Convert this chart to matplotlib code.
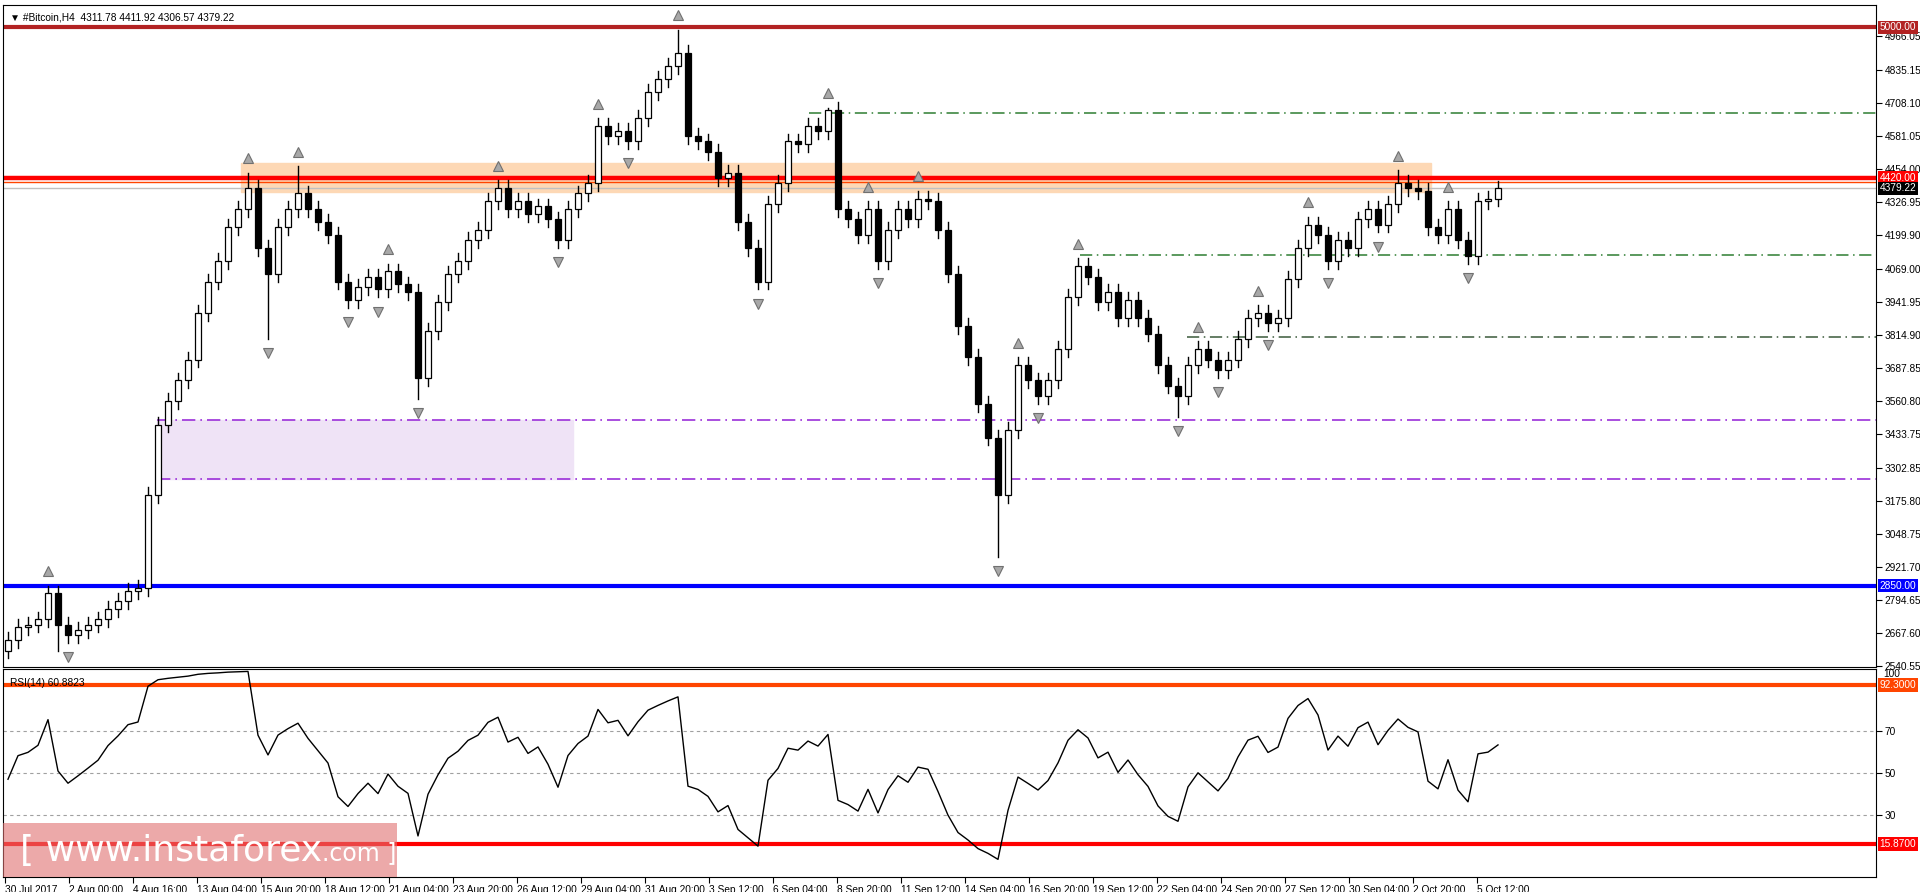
import matplotlib
matplotlib.use("Agg")
import matplotlib.pyplot as plt
import numpy as np
from matplotlib.transforms import blended_transform_factory as btf

closes = [2640, 2690, 2700, 2720, 2820, 2700, 2660, 2680, 2700, 2720, 2760, 2790, 2830,
          2840, 3200, 3470, 3560, 3640, 3720, 3900, 4020, 4100, 4230, 4300, 4380, 4150,
          4050, 4230, 4300, 4360, 4300, 4250, 4200, 4020, 3950, 4000, 4040, 3990, 4060,
          4010, 3980, 3650, 3830, 3940, 4050, 4100, 4180, 4220, 4330, 4380, 4300, 4330,
          4280, 4310, 4260, 4180, 4300, 4360, 4400, 4620, 4580, 4600, 4560, 4650, 4750,
          4800, 4850, 4900, 4580, 4560, 4520, 4420, 4440, 4250, 4150, 4020, 4320, 4400,
          4560, 4550, 4620, 4600, 4680, 4300, 4260, 4200, 4300, 4100, 4220, 4300, 4260,
          4340, 4330, 4220, 4050, 3850, 3730, 3550, 3420, 3200, 3450, 3700, 3640, 3580,
          3640, 3760, 3960, 4080, 4040, 3940, 3980, 3880, 3950, 3880, 3820, 3700, 3620,
          3580, 3700, 3760, 3720, 3680, 3720, 3800, 3880, 3900, 3860, 3880, 4030, 4150,
          4240, 4200, 4100, 4180, 4150, 4260, 4300, 4240, 4320, 4400, 4380, 4370, 4230,
          4200, 4300, 4180, 4120, 4330, 4340, 4379.22]
first_open = 2600
extra_high = {67: 4990, 29: 4465, 24: 4440, 82: 4690, 139: 4450}
extra_low = {41: 3570, 99: 2960, 75: 3990, 26: 3800, 5: 2600, 117: 3500}
xlabels = ["30 Jul 2017", "2 Aug 00:00", "4 Aug 16:00", "13 Aug 04:00", "15 Aug 20:00",
           "18 Aug 12:00", "21 Aug 04:00", "23 Aug 20:00", "26 Aug 12:00", "29 Aug 04:00",
           "31 Aug 20:00", "3 Sep 12:00", "6 Sep 04:00", "8 Sep 20:00", "11 Sep 12:00",
           "14 Sep 04:00", "16 Sep 20:00", "19 Sep 12:00", "22 Sep 04:00", "24 Sep 20:00",
           "27 Sep 12:00", "30 Sep 04:00", "2 Oct 20:00", "5 Oct 12:00"]
price_ticks = [4966.05, 4835.15, 4708.10, 4581.05, 4454.00, 4326.95, 4199.90, 4069.00,
               3941.95, 3814.90, 3687.85, 3560.80, 3433.75, 3302.85, 3175.80, 3048.75,
               2921.70, 2794.65, 2667.60, 2540.55]
lvl_top, lvl_res, lvl_res2, lvl_sup = 5000.0, 4420.0, 4404.0, 2850.0
zone_res = (4365, 4477)
zone_sup = (3260, 3488)
green_lvls = [(4670, 80.1), (4123, 107.2), (3807, 117.9)]
rsi_hi, rsi_lo = 92.3, 15.87

FONT = ['Liberation Sans', 'DejaVu Sans']
plt.rcParams['font.family'] = FONT
FS = 7.3
W, H = 1920, 892
fig = plt.figure(figsize=(W/100, H/100), dpi=100)
def axr(x0, y0, x1, y1):
    return fig.add_axes([x0/W, 1-y1/H, (x1-x0)/W, (y1-y0)/H])
ax = axr(3, 5, 1876, 667)
ar = axr(3, 669, 1876, 877)

n = len(closes)
opens = [first_open] + closes[:-1]
highs, lows = [], []
for i in range(n):
    hi = max(opens[i], closes[i]) + 30
    lo = min(opens[i], closes[i]) - 30
    highs.append(extra_high.get(i, hi))
    lows.append(extra_low.get(i, lo))

XL = (-0.5, 186.8)
YL = (2537, 5085)
for a in (ax, ar):
    a.set_xlim(*XL)
ax.set_ylim(*YL)
fx = lambda v: (v-XL[0])/(XL[1]-XL[0])

ax.axhspan(*zone_res, xmin=fx(23.3), xmax=fx(142.3), color='#FDD8B5', zorder=0)
ax.axhspan(*zone_sup, xmin=fx(14.9), xmax=fx(56.5), color='#EFE3F6', zorder=0)
for y in zone_sup:
    ax.plot([14.9, XL[1]], [y, y], color='#9B30D9', lw=1.2, ls=(0, (8, 3, 1, 3)), zorder=1)
for y, x0 in green_lvls:
    c = '#2E7D32' if y > 3900 else '#3A5A3A'
    ax.plot([x0, XL[1]], [y, y], color=c, lw=1.1, ls=(0, (8, 3, 1, 3)), zorder=1)
ax.axhline(lvl_top, color='#B22222', lw=3, zorder=2)
ax.axhline(lvl_res, color='#FF0000', lw=3.2, zorder=2)
ax.axhline(lvl_res2, color='#FF4500', lw=1, zorder=2)
ax.axhline(closes[-1], color='#C0C0C0', lw=1, zorder=2)
ax.axhline(lvl_sup, color='#0000FF', lw=3, zorder=2)

x = np.arange(n)
for i in range(n):
    o, c = opens[i], closes[i]
    ax.plot([i, i], [lows[i], highs[i]], color='black', lw=1, zorder=3)
    bull = c >= o
    ax.bar(i, max(abs(c-o), 4), bottom=min(o, c), width=0.55,
           color='white' if bull else 'black', edgecolor='black', lw=0.9, zorder=4)

# fractals on closes (2 neighbours each side)
cl = closes
for i in range(2, n-2):
    nb = cl[i-2:i] + cl[i+1:i+3]
    if cl[i] > max(nb):
        ax.plot(i, highs[i]+55, marker='^', ms=7, color='#A8A8A8', mec='#707070', mew=0.8, zorder=5)
    if cl[i] < min(nb):
        ax.plot(i, lows[i]-55, marker='v', ms=7, color='#A8A8A8', mec='#707070', mew=0.8, zorder=5)

ax.yaxis.tick_right()
ax.set_yticks(price_ticks)
ax.set_yticklabels([f"{t:.2f}" for t in price_ticks], fontsize=FS)
ax.tick_params(axis='y', length=4, pad=2)
ax.set_xticks([])
tr = btf(ax.transAxes, ax.transData)
for val, bg in [(lvl_top, '#B22222'), (lvl_res, '#FF0000'), (closes[-1], '#000000'), (lvl_sup, '#0000FF')]:
    ax.text(1.002, val, f"{val:.2f}", transform=tr, fontsize=FS, color='white', va='center',
            ha='left', bbox=dict(boxstyle='square,pad=0.15', fc=bg, ec='none'), zorder=10)
ax.text(0.004, 0.988, "▼ #Bitcoin,H4  4311.78 4411.92 4306.57 4379.22", transform=ax.transAxes,
        fontsize=FS, va='top', ha='left', family=FONT)

# RSI (Wilder smoothing, neutral seed)
period = 6
d = np.diff(closes)
g = np.where(d > 0, d, 0.0); l = np.where(d < 0, -d, 0.0)
rsi = [47.0]
ag = al = 25.0
for k in range(len(d)):
    ag = (ag*(period-1)+g[k])/period
    al = (al*(period-1)+l[k])/period
    rsi.append(100 - 100/(1+ag/max(al, 1e-9)))
rsi = np.clip(rsi, 0, 100)
ar.set_ylim(0, 100)
for lv in (70, 50, 30):
    ar.axhline(lv, color='#A0A0A0', lw=0.8, ls=(0, (3, 3)))
ar.axhline(rsi_hi, color='#FF4500', lw=3)
ar.axhline(rsi_lo, color='#FF0000', lw=3)
ar.plot(x, rsi, color='black', lw=1)
ar.yaxis.tick_right()
ar.set_yticks([70, 50, 30])
ar.set_yticklabels(['70', '50', '30'], fontsize=FS)
ar.tick_params(axis='y', length=4, pad=2)
ar.text(1.004, 1.0, "100", transform=ar.transAxes, fontsize=FS, va='top', ha='left')
tr2 = btf(ar.transAxes, ar.transData)
for val, bg in [(rsi_hi, '#FF4500'), (rsi_lo, '#FF0000')]:
    ar.text(1.002, val, f"{val:.4f}", transform=tr2, fontsize=FS, color='white', va='center',
            ha='left', bbox=dict(boxstyle='square,pad=0.15', fc=bg, ec='none'), zorder=10)
ar.text(0.004, 0.955, "RSI(14) 60.8823", transform=ar.transAxes, fontsize=FS, va='top')
tpos = [6.4*k - 0.3 for k in range(len(xlabels))]
ar.set_xticks(tpos)
ar.set_xticklabels(xlabels, fontsize=FS, ha='left')
ar.tick_params(axis='x', length=4, pad=2)

# watermark
fig.patches.append(plt.Rectangle((3/W, 1-877/H), 394/W, 54/H, transform=fig.transFigure,
                                 fc='#E07070', alpha=0.6, ec='none', zorder=20))
fig.text(20/W, 1-851/H, "[ www.instaforex", fontsize=26, color='white', va='center', ha='left',
         zorder=21, family=['DejaVu Sans'])
fig.text(322/W, 1-853/H, ".com ]", fontsize=17, color='white', va='center', ha='left', zorder=21,
         family=['DejaVu Sans'])

fig.savefig("out.png", dpi=100)
